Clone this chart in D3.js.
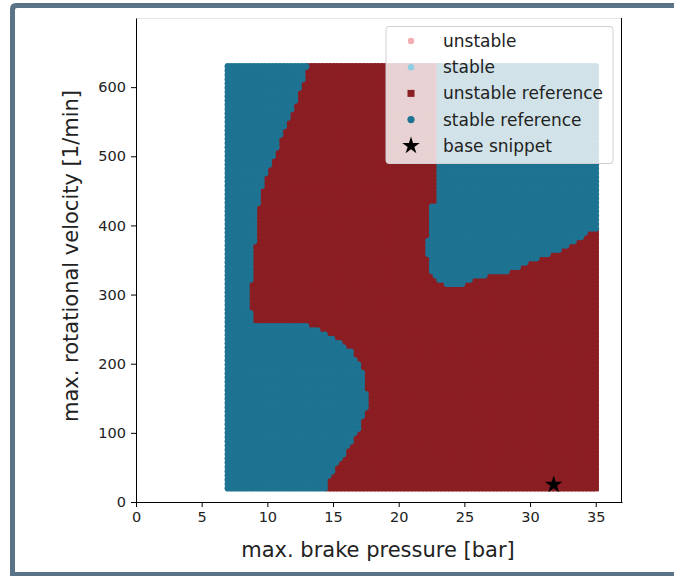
<!DOCTYPE html>
<html>
<head>
<meta charset="utf-8">
<script src="https://cdn.jsdelivr.net/npm/d3@7"></script>
<style>
  body { margin: 0; background: #fff; }
  text { font-family: "DejaVu Sans", sans-serif; fill: #222; }
</style>
</head>
<body>
<div id="root"></div>
<script>
'use strict';

// sampling grid of the reference runs
var pressureRange = [7, 35];
var velocityRange = [20, 630];
var gridSteps = 100;

// stable region outlines: [pressure, velocity]
var stableLeft = [
  [6, 650], [13.4, 650], [13.0, 630], [12.1, 581], [10.6, 509], [9.8, 473],
  [9.2, 426], [9.2, 376], [8.9, 374], [8.9, 318], [8.5, 316], [8.5, 279],
  [8.9, 277], [8.9, 259], [9.5, 255], [13.0, 255], [13.6, 251], [14.3, 246],
  [14.9, 238], [15.6, 228], [16.4, 217], [16.9, 203], [17.2, 186], [17.4, 165],
  [17.7, 145], [17.4, 130], [16.9, 105], [16.3, 83], [15.8, 68], [15.3, 54],
  [14.8, 39], [14.4, 25], [14.4, 0], [6, 0]
];
var stableUpperRight = [
  [22.9, 650], [22.9, 432], [22.5, 428], [22.5, 383], [22.2, 379], [22.2, 358],
  [22.5, 354], [22.5, 335], [22.9, 325], [23.5, 315], [24.7, 313], [25.4, 322],
  [26.9, 329], [28.2, 334], [29.2, 341], [30.5, 352], [31.5, 359], [32.5, 367],
  [33.6, 380], [34.6, 392], [35.5, 398], [36, 398], [36, 650]
];

var baseSnippet = [31.8, 25];

var xTicks = [0, 5, 10, 15, 20, 25, 30, 35];
var yTicks = [0, 100, 200, 300, 400, 500, 600];

var legendLabels = ['unstable', 'stable', 'unstable reference', 'stable reference', 'base snippet'];

var red = '#8b1e23';
var blue = '#1d7391';

var W = 674, H = 576;
var svg = d3.select('#root').append('svg').attr('width', W).attr('height', H);

svg.append('rect').attr('width', W).attr('height', H).attr('fill', '#fff');

// frame of the screenshot
svg.append('path')
  .attr('d', 'M10,576 V9 Q10,3 16,3 H674 V8 H17 Q15,8 15,10 V572 H674 V576 Z')
  .attr('fill', '#5b7387');

var x = d3.scaleLinear().domain([0, 37]).range([136, 622]);
var y = d3.scaleLinear().domain([0, 700]).range([502, 18]);

// grid points
var pressures = d3.range(gridSteps).map(function (i) {
  return pressureRange[0] + i * (pressureRange[1] - pressureRange[0]) / (gridSteps - 1);
});
var velocities = d3.range(gridSteps).map(function (i) {
  return velocityRange[0] + i * (velocityRange[1] - velocityRange[0]) / (gridSteps - 1);
});

var unstableRef = [];
var stableRef = [];
velocities.forEach(function (v) {
  pressures.forEach(function (p) {
    var pt = [p, v];
    if (d3.polygonContains(stableLeft, pt) || d3.polygonContains(stableUpperRight, pt)) {
      stableRef.push(pt);
    } else {
      unstableRef.push(pt);
    }
  });
});

var plot = svg.append('g');

plot.selectAll('rect.unstable')
  .data(unstableRef)
  .enter().append('rect')
  .attr('class', 'unstable')
  .attr('x', function (d) { return x(d[0]) - 3.2; })
  .attr('y', function (d) { return y(d[1]) - 3.2; })
  .attr('width', 6.4)
  .attr('height', 6.4)
  .attr('fill', red);

plot.selectAll('circle.stable')
  .data(stableRef)
  .enter().append('circle')
  .attr('class', 'stable')
  .attr('cx', function (d) { return x(d[0]); })
  .attr('cy', function (d) { return y(d[1]); })
  .attr('r', 3.4)
  .attr('fill', blue);

var star = d3.symbol().type(d3.symbolStar).size(95);
plot.append('path')
  .attr('d', star())
  .attr('transform', 'translate(' + x(baseSnippet[0]) + ',' + y(baseSnippet[1]) + ')')
  .attr('fill', '#000');

// spines
svg.append('line').attr('x1', 136).attr('x2', 622).attr('y1', 18.5).attr('y2', 18.5)
  .attr('stroke', '#e6e6e6').attr('stroke-width', 1);
svg.append('line').attr('x1', 621.5).attr('x2', 621.5).attr('y1', 18).attr('y2', 502)
  .attr('stroke', '#000').attr('stroke-width', 1);

var xAxis = svg.append('g')
  .attr('transform', 'translate(0,502)')
  .call(d3.axisBottom(x).tickValues(xTicks).tickSize(5).tickPadding(5).tickSizeOuter(0));
var yAxis = svg.append('g')
  .attr('transform', 'translate(136,0)')
  .call(d3.axisLeft(y).tickValues(yTicks).tickSize(5).tickPadding(5).tickSizeOuter(0));

[xAxis, yAxis].forEach(function (ax) {
  ax.select('.domain').attr('stroke', '#000');
  ax.selectAll('text').attr('font-size', '14.5px').attr('font-family', '"DejaVu Sans", sans-serif').attr('fill', '#222');
});

svg.append('text')
  .attr('x', 378).attr('y', 557)
  .attr('text-anchor', 'middle')
  .attr('font-size', '21px')
  .text('max. brake pressure [bar]');

svg.append('text')
  .attr('transform', 'translate(78,256) rotate(-90)')
  .attr('text-anchor', 'middle')
  .attr('font-size', '21px')
  .text('max. rotational velocity [1/min]');

// legend
var legend = svg.append('g');
legend.append('rect')
  .attr('x', 386).attr('y', 26.5).attr('width', 227).attr('height', 137)
  .attr('rx', 3)
  .attr('fill', 'rgba(255,255,255,0.8)')
  .attr('stroke', '#d0d0d0');

var rows = legend.selectAll('g.item')
  .data(legendLabels)
  .enter().append('g')
  .attr('class', 'item')
  .attr('transform', function (d, i) { return 'translate(411,' + (41 + i * 26.2) + ')'; });

rows.append('text')
  .attr('x', 32).attr('y', 6)
  .attr('font-size', '17px')
  .text(function (d) { return d; });

rows.each(function (d, i) {
  var g = d3.select(this);
  if (i === 0) g.append('circle').attr('r', 3.2).attr('fill', '#f2adb2');
  if (i === 1) g.append('circle').attr('r', 3.2).attr('fill', '#8ed0e3');
  if (i === 2) g.append('rect').attr('x', -3.5).attr('y', -3.5).attr('width', 7).attr('height', 7).attr('fill', red);
  if (i === 3) g.append('circle').attr('r', 3.6).attr('fill', blue);
  if (i === 4) g.append('path').attr('d', star()).attr('fill', '#000');
});
</script>
</body>
</html>
